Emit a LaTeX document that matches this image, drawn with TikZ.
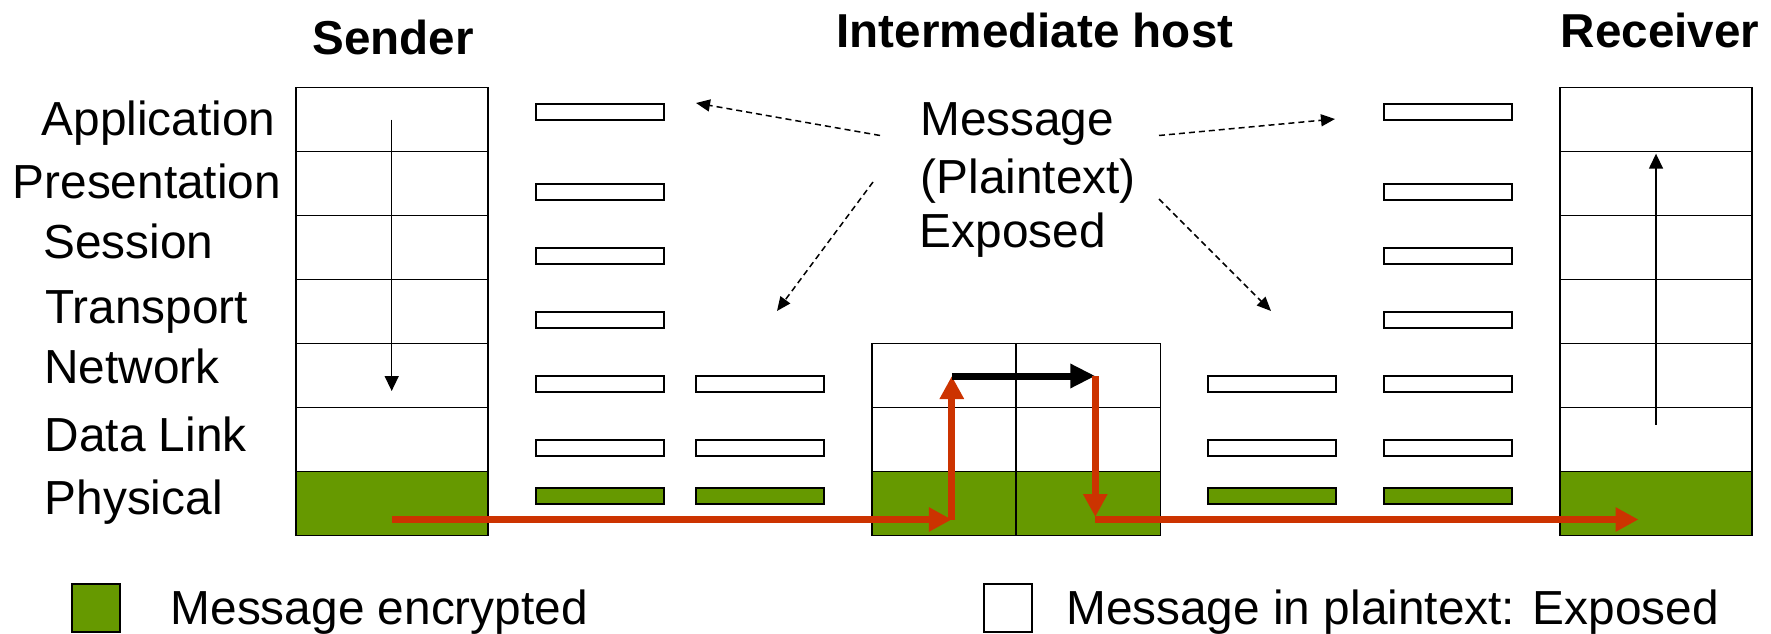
\documentclass[tikz,border=0pt]{standalone}
\usepackage{fontspec}
\setmainfont{Liberation Sans}
\usetikzlibrary{arrows.meta}
\definecolor{encgreen}{RGB}{102,153,0}
\definecolor{pathred}{RGB}{204,51,0}
\begin{document}
\begin{tikzpicture}[x=1bp,y=-1bp,
  font=\fontsize{47.8bp}{56bp}\selectfont,
  cell/.style={draw, line width=1.8bp, inner sep=0pt, outer sep=0pt,
               minimum width=192bp, minimum height=64bp},
  halfcell/.style={cell, minimum width=144.4bp},
  bar/.style={draw, line width=2bp, inner sep=0pt, outer sep=0pt,
              minimum width=128bp, minimum height=16bp, fill=white},
  enc/.style={fill=encgreen},
  swatch/.style={draw, line width=2bp, inner sep=0pt,
                 minimum width=48.5bp, minimum height=48.5bp},
  lbl/.style={anchor=base west, inner sep=0pt},
  title/.style={anchor=base, inner sep=0pt, font=\fontsize{47.6bp}{56bp}\selectfont\bfseries},
  flow/.style={line width=1.5bp, -{Triangle[length=15bp,width=14bp]}},
  hint/.style={line width=1.5bp, dash pattern=on 6bp off 4bp,
               -{Triangle[length=14bp,width=12bp]}},
  redflow/.style={draw=pathred, line width=7bp,
                  -{Triangle[length=23bp,width=23bp]}},
  blackflow/.style={line width=7bp, -{Triangle[length=25bp,width=23bp]}}
]
\useasboundingbox (0,0) rectangle (1771,634);

% titles
\node[title] (tsend) at (393,54.6) {Sender};
\node[title] (tmid) at (1035,47.7) {Intermediate host};
\node[title] (trecv) at (1660,47.7) {Receiver};

% layer names
\node[lbl] (l1) at (41.5,135.5) {Application};
\node[lbl] (l2) at (12.5,199) {Presentation};
\node[lbl] (l3) at (43,258.8) {Session};
\node[lbl] (l4) at (45,323.5) {Transport};
\node[lbl] (l5) at (44,383.3) {Network};
\node[lbl] (l6) at (44.5,451) {Data Link};
\node[lbl] (l7) at (44.5,514) {Physical};

% sender and receiver stacks
\foreach \i in {1,...,6} {
  \node[cell] (s\i) at (391.7,{87.5+64*(\i-0.5)}) {};
  \node[cell] (r\i) at (1656,{87.5+64*(\i-0.5)}) {};
}
\node[cell,enc] (s7) at (391.7,503.5) {};
\node[cell,enc] (r7) at (1656,503.5) {};

% intermediate host: two half stacks, lower three layers
\foreach \i/\y in {5/375.5,6/439.5} {
  \node[halfcell] (ml\i) at (943.8,\y) {};
  \node[halfcell] (mr\i) at (1088.2,\y) {};
}
\node[halfcell,enc] (ml7) at (943.8,503.5) {};
\node[halfcell,enc] (mr7) at (1088.2,503.5) {};

% packet headers along the way
\foreach \y [count=\i] in {112,192,256,320,384,448} {
  \node[bar] (a\i) at (600,\y) {};
  \node[bar] (d\i) at (1447.7,\y) {};
}
\node[bar,enc] (a7) at (600,496) {};
\node[bar,enc] (d7) at (1447.7,496) {};
\foreach \y [count=\i from 5] in {384,448} {
  \node[bar] (b\i) at (759.5,\y) {};
  \node[bar] (c\i) at (1271.7,\y) {};
}
\node[bar,enc] (b7) at (759.5,496) {};
\node[bar,enc] (c7) at (1271.7,496) {};

% central note
\node[lbl] (m1) at (920,135.5) {Message};
\node[lbl] (m2) at (920.5,194) {(Plaintext)};
\node[lbl] (m3) at (919.5,247.5) {Exposed};

% dashed pointers from the note
\coordinate (h1s) at (880,135.5);  \coordinate (h1e) at (696,103);
\coordinate (h2s) at (873,182);    \coordinate (h2e) at (777,311);
\coordinate (h3s) at (1159,135.5); \coordinate (h3e) at (1335,119);
\coordinate (h4s) at (1159,199);   \coordinate (h4e) at (1271,311);
\draw[hint] (h1s) -- (h1e);
\draw[hint] (h2s) -- (h2e);
\draw[hint] (h3s) -- (h3e);
\draw[hint] (h4s) -- (h4e);

% passage down the sender stack and up the receiver stack
\coordinate (sd0) at (391.7,119.7); \coordinate (sd1) at (391.7,391);
\coordinate (ru0) at (1656,424.6);  \coordinate (ru1) at (1656,153.7);
\draw[flow] (sd0) -- (sd1);
\draw[flow] (ru0) -- (ru1);

% path of the message over the link
\coordinate (p0) at (391.7,519.5);
\coordinate (p1) at (951.8,519.5);
\coordinate (p2) at (951.8,376);
\coordinate (p3) at (1095.3,376);
\coordinate (p4) at (1095.3,517);
\coordinate (p5) at (1095.3,519.5);
\coordinate (p6) at (1638.5,519.5);
\draw[redflow] (p0) -- (p1);
\draw[redflow] (p1) -- (p2);
\draw[blackflow] (p2) -- (p3);
\draw[redflow] (p3) -- (p4);
\draw[redflow] (p5) -- (p6);

% legend
\node[swatch,enc] (k1) at (95.9,607.8) {};
\node[lbl] (k1t) at (170.5,624) {Message encrypted};
\node[swatch] (k2) at (1008.2,607.8) {};
\node[lbl] (k2t) at (1066,624) {Message in plaintext: Exposed};
\end{tikzpicture}
\end{document}
